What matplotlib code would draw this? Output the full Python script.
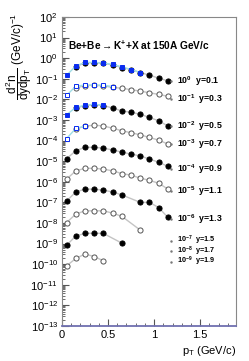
# -*- coding: utf-8 -*-
# K+ pT spectra in Be+Be at 150A GeV/c, rapidity slices scaled by 10^-k

import numpy as np
import matplotlib.pyplot as plt

plt.rcParams['font.family'] = ['Liberation Sans', 'DejaVu Sans']
plt.rcParams['mathtext.fontset'] = 'custom'
plt.rcParams['mathtext.rm'] = 'Liberation Sans'
plt.rcParams['mathtext.it'] = 'Liberation Sans'
plt.rcParams['mathtext.bf'] = 'Liberation Sans:bold'

############################################################
# Data (already multiplied by the 10^-k factor of each slice)
############################################################

rap_labels = ['0.1', '0.3', '0.5', '0.7', '0.9', '1.1', '1.3', '1.5', '1.7', '1.9']
scale_exp = [0, -1, -2, -3, -4, -5, -6, -7, -8, -9]
label_y = [7.6e-2, 1.0e-2, 5.0e-4, 6.8e-5, 4.1e-6, 3.5e-7, 1.5e-8,
           1.4e-9, 4.3e-10, 1.3e-10]

# black / grey circles
pt_1 = [0.15, 0.25, 0.35, 0.45, 0.55, 0.65, 0.75, 0.85, 0.95, 1.05, 1.15]
y_1 = [0.38, 0.60, 0.60, 0.56, 0.47, 0.35, 0.28, 0.20, 0.15, 0.107, 0.079]
pt_2 = [0.15, 0.25, 0.35, 0.45, 0.55, 0.65, 0.75, 0.85, 0.95, 1.05, 1.15]
y_2 = [0.0355, 0.047, 0.048, 0.045, 0.038, 0.0347, 0.0295, 0.0251, 0.0209,
       0.0174, 0.0141]
pt_3 = [0.15, 0.25, 0.35, 0.45, 0.55, 0.65, 0.75, 0.85, 0.95, 1.05, 1.15]
y_3 = [3.8e-3, 5.0e-3, 5.5e-3, 5.0e-3, 3.8e-3, 2.75e-3, 2.35e-3, 1.9e-3,
       1.32e-3, 9.1e-4, 5.1e-4]
pt_4 = [0.15, 0.25, 0.35, 0.45, 0.55, 0.65, 0.75, 0.85, 0.95, 1.05, 1.15]
y_4 = [3.7e-4, 5.0e-4, 5.6e-4, 5.1e-4, 4.0e-4, 3.0e-4, 2.4e-4, 1.9e-4,
       1.41e-4, 1.05e-4, 6.8e-5]
pt_5 = [0.05, 0.15, 0.25, 0.35, 0.45, 0.55, 0.65, 0.75, 0.85, 0.95, 1.05, 1.15]
y_5 = [1.32e-5, 3.2e-5, 4.7e-5, 4.7e-5, 4.3e-5, 3.5e-5, 2.75e-5, 2.2e-5,
       1.8e-5, 1.26e-5, 8.9e-6, 5.6e-6]
pt_6 = [0.05, 0.15, 0.25, 0.35, 0.45, 0.55, 0.65, 0.75, 0.85, 0.95, 1.05, 1.15]
y_6 = [1.35e-6, 3.4e-6, 4.5e-6, 4.5e-6, 4.1e-6, 3.4e-6, 2.5e-6, 2.1e-6,
       1.5e-6, 1.17e-6, 8.5e-7, 4.4e-7]
pt_7 = [0.05, 0.15, 0.25, 0.35, 0.45, 0.55, 0.65, 0.85, 0.95, 1.05, 1.15]
y_7 = [1.17e-7, 3.2e-7, 4.4e-7, 4.4e-7, 3.9e-7, 3.2e-7, 2.3e-7, 1.0e-7,
       1.0e-7, 5.6e-8, 1.86e-8]
pt_8 = [0.05, 0.15, 0.25, 0.35, 0.45, 0.55, 0.65, 0.85]
y_8 = [1.05e-8, 2.7e-8, 3.9e-8, 3.9e-8, 3.9e-8, 3.0e-8, 2.1e-8, 4.5e-9]
pt_9 = [0.05, 0.15, 0.25, 0.35, 0.45, 0.65]
y_9 = [8.3e-10, 2.35e-9, 3.1e-9, 3.2e-9, 3.1e-9, 1.05e-9]
pt_10 = [0.05, 0.15, 0.25, 0.35, 0.45]
y_10 = [8.3e-11, 1.9e-10, 3.1e-10, 2.35e-10, 1.45e-10]

# blue squares (low pT)
bpt_1 = [0.05, 0.15, 0.25, 0.35, 0.45, 0.55, 0.65, 0.75, 0.85]
by_1 = [0.148, 0.42, 0.62, 0.62, 0.58, 0.50, 0.38, 0.28, 0.20]
bpt_2 = [0.05, 0.15, 0.25, 0.35, 0.45, 0.55]
by_2 = [0.0158, 0.0437, 0.050, 0.050, 0.049, 0.0417]
bpt_3 = [0.05, 0.15, 0.25, 0.35, 0.45]
by_3 = [1.8e-3, 4.1e-3, 5.2e-3, 5.8e-3, 5.1e-3]
bpt_4 = [0.05, 0.15, 0.25]
by_4 = [1.26e-4, 3.9e-4, 5.0e-4]

black_sets = [(pt_1, y_1), (pt_2, y_2), (pt_3, y_3), (pt_4, y_4), (pt_5, y_5),
              (pt_6, y_6), (pt_7, y_7), (pt_8, y_8), (pt_9, y_9), (pt_10, y_10)]
blue_sets = [(bpt_1, by_1), (bpt_2, by_2), (bpt_3, by_3), (bpt_4, by_4)]

############################################################
# Plot
############################################################

fig = plt.figure(figsize=(2.49, 3.61), dpi=100)
ax = fig.add_axes([0.249, 0.097, 0.699, 0.856])

for i, (px, py) in enumerate(black_sets):
    filled = (i % 2 == 0)
    ax.plot(px, py, '-', color='#c4c4c4', lw=1.0, zorder=1)
    ax.plot(px, py, 'o', ms=3.7, mew=0.7,
            mfc='black' if filled else 'white',
            mec='black' if filled else '#555555', zorder=2)

for i, (px, py) in enumerate(blue_sets):
    filled = (i % 2 == 0)
    ax.plot(px, py, '-', color='#9fdde6', lw=1.0, zorder=3)
    ax.plot(px, py, 's', ms=3.4, mew=0.7,
            mfc='#0a2cf0' if filled else 'white', mec='#0a2cf0', zorder=4)

for k in range(len(rap_labels)):
    fs = 6.3 if k < 7 else 5.2
    ax.plot(1.18, label_y[k], '.', ms=1.5, color='#777777')
    ax.text(1.25, label_y[k], r'$\mathbf{10^{%d}}$  y=%s' % (scale_exp[k], rap_labels[k]),
            fontsize=fs, fontweight='bold', va='center', ha='left')

ax.text(0.06, 4.0, r'Be+Be$\rightarrow$K$^{\mathbf{+}}$+X at 150A GeV/c',
        fontsize=7.3, fontweight='bold', va='center', ha='left')

ax.set_yscale('log')
ax.set_xlim(0, 1.89)
ax.set_ylim(1e-13, 1e2)
ax.set_xticks([0, 0.5, 1, 1.5])
ax.set_xticklabels(['0', '0.5', '1', '1.5'])
ax.xaxis.set_minor_locator(plt.MultipleLocator(0.1))
ax.yaxis.set_major_locator(plt.matplotlib.ticker.LogLocator(base=10, numticks=20))
ax.yaxis.set_minor_locator(plt.matplotlib.ticker.LogLocator(base=10, subs=np.arange(2, 10), numticks=20))
ax.yaxis.set_minor_formatter(plt.NullFormatter())

ax.tick_params(which='both', direction='in', top=False, right=False,
               labelsize=8, color='#555555', pad=3)
ax.tick_params(which='major', length=5, width=0.8)
ax.tick_params(which='minor', length=2.5, width=0.6)

for s in ['left', 'top', 'right']:
    ax.spines[s].set_color('#888888')
    ax.spines[s].set_linewidth(0.8)
ax.spines['bottom'].set_color('#7070b0')
ax.spines['bottom'].set_linewidth(1.3)

ax.set_xlabel(r'p$_{\mathrm{T}}$ (GeV/c)', fontsize=8, loc='right', labelpad=3)
fig.text(0.075, 0.965, r'$\dfrac{d^2n}{dydp_T}$ (GeV/c)$^{-1}$', fontsize=8.5,
         rotation=90, ha='center', va='top')

plt.savefig('out.png', dpi=100)
